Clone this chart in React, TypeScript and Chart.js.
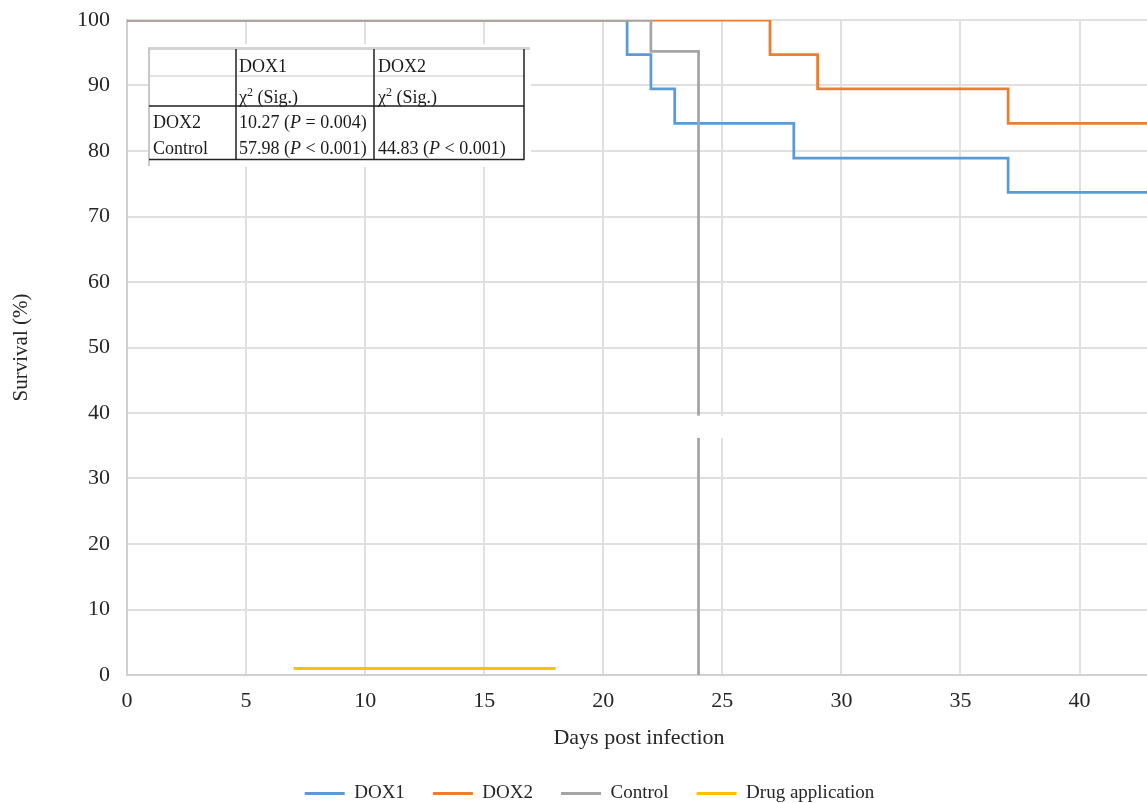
import React, { useEffect, useRef } from 'react';
import { Chart, registerables } from 'chart.js';

Chart.register(...registerables);

// ---- Data ----
const dox1Days = [0, 21, 22, 23, 28, 37, 43];
const dox1Survival = [100, 94.7, 89.5, 84.2, 78.9, 73.7, 73.7];
const dox2Days = [0, 27, 29, 37, 43];
const dox2Survival = [100, 94.7, 89.5, 84.2, 84.2];
const controlDays = [0, 22, 24];
const controlSurvival = [100, 95.2, 0];
const drugDays = [7, 18];
const drugLevel = [1, 1];

const seriesNames = ['DOX1', 'DOX2', 'Control', 'Drug application'];
const seriesColors = ['#5B9BD5', '#ED7D31', '#A5A5A5', '#FFC000'];

const xMin = 0;
const xMax = 43;
const xStep = 5;
const yMin = 0;
const yMax = 100;
const yStep = 10;
const xTitle = 'Days post infection';
const yTitle = 'Survival (%)';

// break in the control line (survival range hidden)
const breakRange = [36.2, 39.6];

// statistics table
const tableColHeaders = ['DOX1', 'DOX2'];
const tableSubHeader = ['χ', '2', ' (Sig.)'];
const tableRowHeaders = ['DOX2', 'Control'];
const tableChi = [['10.27', ''], ['57.98', '44.83']];
const tableP = [['= 0.004', ''], ['< 0.001', '< 0.001']];

const FONT = "'Liberation Serif', 'Times New Roman', serif";
const TEXT = '#262626';

type Part = { t: string; italic?: boolean; sup?: boolean };

function drawParts(ctx: CanvasRenderingContext2D, x: number, y: number, parts: Part[], size: number) {
  for (const p of parts) {
    const s = p.sup ? Math.round(size * 0.65) : size;
    ctx.font = `${p.italic ? 'italic ' : ''}${s}px ${FONT}`;
    ctx.fillText(p.t, x, p.sup ? y - size * 0.4 : y);
    x += ctx.measureText(p.t).width;
  }
}

const breakPlugin = {
  id: 'breakPatch',
  afterDatasetsDraw(chart: any) {
    const { ctx, scales } = chart;
    const xs = scales.x;
    const ys = scales.y;
    const xl = xs.getPixelForValue(controlDays[2]) - 12;
    const xr = xs.getPixelForValue(25) + 12;
    const yt = ys.getPixelForValue(breakRange[1]);
    const yb = ys.getPixelForValue(breakRange[0]);
    ctx.save();
    ctx.fillStyle = '#ffffff';
    ctx.fillRect(xl, yt, xr - xl, yb - yt);
    ctx.restore();
  },
};

const legendShiftPlugin = {
  id: 'legendShift',
  afterLayout(chart: any) {
    const lg = chart.legend;
    if (lg) {
      lg.left += 14;
      lg.right += 14;
    }
  },
};

const tablePlugin = {
  id: 'statsTable',
  afterDraw(chart: any) {
    const ctx: CanvasRenderingContext2D = chart.ctx;
    ctx.save();
    // background
    ctx.fillStyle = '#ffffff';
    ctx.fillRect(148, 44, 383, 123);

    // light outer lines
    ctx.strokeStyle = '#d4d4d4';
    ctx.lineWidth = 3;
    ctx.beginPath();
    ctx.moveTo(148, 48.5);
    ctx.lineTo(530, 48.5);
    ctx.stroke();
    ctx.strokeStyle = '#c8c8c8';
    ctx.lineWidth = 2;
    ctx.beginPath();
    ctx.moveTo(149, 48);
    ctx.lineTo(149, 166);
    ctx.stroke();
    ctx.strokeStyle = '#e4e4e4';
    ctx.lineWidth = 2;
    ctx.beginPath();
    ctx.moveTo(150, 76);
    ctx.lineTo(524, 76);
    ctx.stroke();

    // dark lines
    ctx.strokeStyle = '#222222';
    ctx.lineWidth = 1.5;
    ctx.beginPath();
    for (const x of [236, 374, 524]) {
      ctx.moveTo(x, 49);
      ctx.lineTo(x, 160);
    }
    for (const y of [106, 159.5]) {
      ctx.moveTo(149, y);
      ctx.lineTo(524.5, y);
    }
    ctx.stroke();

    // text
    const size = 18;
    ctx.fillStyle = '#1a1a1a';
    ctx.textBaseline = 'alphabetic';
    ctx.textAlign = 'left';
    const colX = [153, 239, 378];
    const rowY = [72, 103, 128, 154];
    tableColHeaders.forEach((h, i) => {
      drawParts(ctx, colX[i + 1], rowY[0], [{ t: h }], size);
      drawParts(ctx, colX[i + 1], rowY[1], [
        { t: tableSubHeader[0] },
        { t: tableSubHeader[1], sup: true },
        { t: tableSubHeader[2] },
      ], size);
    });
    tableRowHeaders.forEach((h, r) => {
      drawParts(ctx, colX[0], rowY[r + 2], [{ t: h }], size);
      for (let c = 0; c < 2; c++) {
        if (!tableChi[r][c]) continue;
        drawParts(ctx, colX[c + 1], rowY[r + 2], [
          { t: `${tableChi[r][c]} (` },
          { t: 'P', italic: true },
          { t: ` ${tableP[r][c]})` },
        ], size);
      }
    });
    ctx.restore();
  },
};

const toPoints = (xs: number[], ys: number[]) => xs.map((x, i) => ({ x, y: ys[i] }));

export default function App() {
  const ref = useRef<HTMLCanvasElement>(null);

  useEffect(() => {
    document.body.style.margin = '0';
    const canvas = ref.current!;
    const chart = new Chart(canvas, {
      type: 'line',
      data: {
        datasets: [
          {
            label: seriesNames[0],
            data: toPoints(dox1Days, dox1Survival),
            borderColor: seriesColors[0],
            backgroundColor: seriesColors[0],
            stepped: true,
            order: 4,
          },
          {
            label: seriesNames[1],
            data: toPoints(dox2Days, dox2Survival),
            borderColor: seriesColors[1],
            backgroundColor: seriesColors[1],
            stepped: true,
            order: 3,
          },
          {
            label: seriesNames[2],
            data: toPoints(controlDays, controlSurvival),
            borderColor: seriesColors[2],
            backgroundColor: seriesColors[2],
            stepped: true,
            order: 2,
          },
          {
            label: seriesNames[3],
            data: toPoints(drugDays, drugLevel),
            borderColor: seriesColors[3],
            backgroundColor: seriesColors[3],
            borderWidth: 3,
            order: 1,
          },
        ],
      } as any,
      options: {
        responsive: false,
        animation: false,
        layout: { padding: { top: 20, right: 29, left: 0, bottom: 0 } },
        elements: {
          point: { radius: 0, hoverRadius: 0 },
          line: { borderWidth: 2.75, tension: 0, fill: false },
        },
        scales: {
          x: {
            type: 'linear',
            min: xMin,
            max: xMax,
            ticks: {
              stepSize: xStep,
              includeBounds: false,
              padding: 13,
              color: TEXT,
              font: { family: FONT, size: 22 },
            },
            grid: { color: '#e0e0e0', lineWidth: 2, drawTicks: false },
            border: { color: '#d0d0d0', width: 2 },
            title: {
              display: true,
              text: xTitle,
              color: TEXT,
              font: { family: FONT, size: 22 },
              padding: { top: 5, bottom: 5 },
            },
            afterFit: (s: any) => {
              s.height = 81;
            },
          },
          y: {
            type: 'linear',
            min: yMin,
            max: yMax,
            ticks: {
              stepSize: yStep,
              padding: 6,
              color: TEXT,
              font: { family: FONT, size: 22 },
            },
            grid: {
              color: '#e0e0e0',
              lineWidth: 2,
              drawTicks: true,
              tickLength: 11,
              tickColor: 'rgba(0,0,0,0)',
            },
            border: { color: '#d0d0d0', width: 2 },
            title: {
              display: true,
              text: yTitle,
              color: TEXT,
              font: { family: FONT, size: 21 },
              padding: { top: 9, bottom: 9 },
            },
            afterFit: (s: any) => {
              s.width = 127;
            },
          },
        },
        plugins: {
          legend: {
            position: 'bottom',
            labels: {
              boxWidth: 40,
              boxHeight: 3,
              padding: 28,
              color: TEXT,
              font: { family: FONT, size: 19 },
              sort: (a: any, b: any) => a.datasetIndex - b.datasetIndex,
              generateLabels: (c: any) =>
                (Chart.defaults.plugins.legend.labels.generateLabels as any)(c).map((l: any) => ({
                  ...l,
                  lineWidth: 0,
                })),
            },
          },
          tooltip: { enabled: false },
        },
      } as any,
      plugins: [breakPlugin, legendShiftPlugin, tablePlugin],
    });
    return () => chart.destroy();
  }, []);

  return (
    <div style={{ width: 1147, height: 803, overflow: 'hidden', position: 'relative' }}>
      <canvas ref={ref} width={1180} height={813} style={{ display: 'block' }} />
    </div>
  );
}
